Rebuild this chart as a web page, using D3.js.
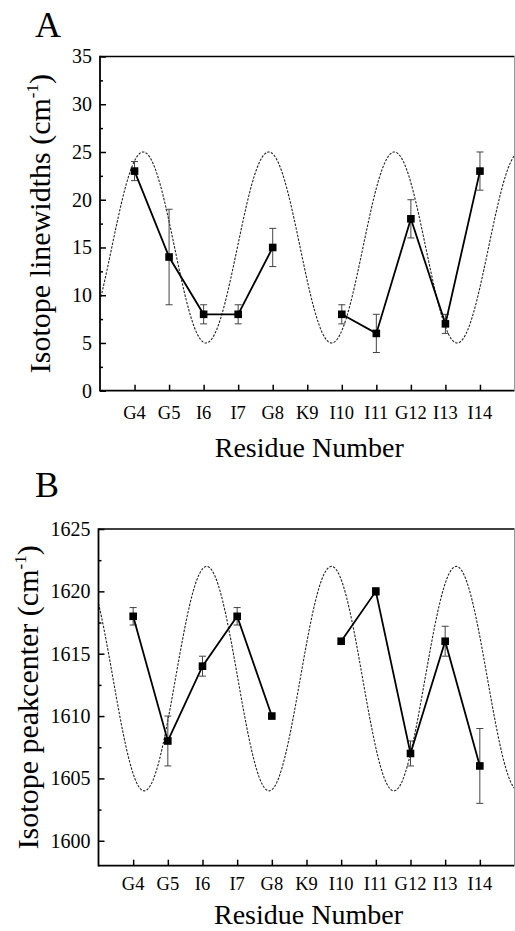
<!DOCTYPE html>
<html>
<head>
<meta charset="utf-8">
<script src="https://cdn.jsdelivr.net/npm/d3@7"></script>
<style>
  body { margin: 0; background: #fff; }
  svg { display: block; }
  text { font-family: "Liberation Serif", "Times New Roman", Times, serif; fill: #000; }
</style>
</head>
<body>
<svg id="chart" width="515" height="931"></svg>
<script>
// residues along the x axis
let residues = ['G4', 'G5', 'I6', 'I7', 'G8', 'K9', 'I10', 'I11', 'G12', 'I13', 'I14']
let residueNums = [4, 5, 6, 7, 8, 9, 10, 11, 12, 13, 14]

// panel A: isotope linewidths (cm-1), K9 not measured
let widthVals = [23, 14, 8, 8, 15, null, 8, 6, 18, 7, 23]
let widthErr = [1, 5, 1, 1, 2, null, 1, 2, 2, 1, 2]

// panel B: isotope peak center (cm-1)
let centerVals = [1618, 1608, 1614, 1618, 1610, null, 1616, 1620, 1607, 1616, 1606]
let centerErr = [0.7, 2, 0.8, 0.7, 0, null, 0, 0.3, 1, 1.2, 3]

// helical periodicity fits (dotted curves): mid, amplitude, period, position of a maximum
let fitA = { mid: 15, amp: 10, period: 3.636, peak: 4.25 }
let fitB = { mid: 1613, amp: 9, period: 3.6, peak: 6.12 }

// tick values
let ticksA = [0, 5, 10, 15, 20, 25, 30, 35]
let ticksB = [1600, 1605, 1610, 1615, 1620, 1625]

let svg = d3.select('#chart')
svg.append('rect').attr('width', 515).attr('height', 931).attr('fill', '#fff')

function drawPanel(cfg) {
  let g = svg.append('g')
  let x = d3.scaleLinear().domain([3, 15]).range([cfg.left, cfg.right])
  let y = d3.scaleLinear().domain(cfg.yDomain).range([cfg.bottom, cfg.top])

  let clipId = 'clip-' + cfg.letter
  g.append('clipPath').attr('id', clipId)
    .append('rect')
    .attr('x', cfg.left).attr('y', cfg.top)
    .attr('width', cfg.right - cfg.left).attr('height', cfg.bottom - cfg.top)

  // dotted periodic fit
  let f = cfg.fit
  let xs = d3.range(3, 15.001, 0.02)
  let wave = d3.line()
    .x(d => x(d))
    .y(d => y(f.mid + f.amp * Math.cos(2 * Math.PI * (d - f.peak) / f.period)))
  g.append('path')
    .datum(xs)
    .attr('clip-path', `url(#${clipId})`)
    .attr('d', wave)
    .attr('fill', 'none')
    .attr('stroke', '#222')
    .attr('stroke-width', 1.1)
    .attr('stroke-dasharray', '2.4,1.4')

  let pts = residueNums.map((r, i) => ({ r: r, v: cfg.vals[i], e: cfg.err[i] }))

  // error bars
  let eb = g.selectAll('.err')
    .data(pts.filter(d => d.v != null && d.e > 0))
    .enter().append('g')
    .attr('stroke', '#444')
    .attr('stroke-width', 1)
  eb.append('line')
    .attr('x1', d => x(d.r)).attr('x2', d => x(d.r))
    .attr('y1', d => y(d.v - d.e)).attr('y2', d => y(d.v + d.e))
  eb.append('line')
    .attr('x1', d => x(d.r) - 3.5).attr('x2', d => x(d.r) + 3.5)
    .attr('y1', d => y(d.v + d.e)).attr('y2', d => y(d.v + d.e))
  eb.append('line')
    .attr('x1', d => x(d.r) - 3.5).attr('x2', d => x(d.r) + 3.5)
    .attr('y1', d => y(d.v - d.e)).attr('y2', d => y(d.v - d.e))

  // connecting line, broken at K9
  let line = d3.line()
    .defined(d => d.v != null)
    .x(d => x(d.r))
    .y(d => y(d.v))
  g.append('path')
    .datum(pts)
    .attr('d', line)
    .attr('fill', 'none')
    .attr('stroke', '#000')
    .attr('stroke-width', 1.8)

  // square markers
  g.selectAll('.pt')
    .data(pts.filter(d => d.v != null))
    .enter().append('rect')
    .attr('x', d => x(d.r) - 3.8)
    .attr('y', d => y(d.v) - 3.8)
    .attr('width', 7.6)
    .attr('height', 7.6)
    .attr('fill', '#000')

  // y axis, ticks inward
  let yAxis = d3.axisRight(y).tickValues(cfg.ticks).tickSize(6).tickFormat('')
  g.append('g').attr('transform', `translate(${cfg.left},0)`).call(yAxis)
  let minor = d3.range(cfg.ticks[0] - cfg.step / 2, cfg.yDomain[1], cfg.step)
    .filter(v => v > cfg.yDomain[0] && v < cfg.yDomain[1])
  g.append('g').attr('transform', `translate(${cfg.left},0)`)
    .call(d3.axisRight(y).tickValues(minor).tickSize(3).tickFormat(''))
  g.selectAll('.tick line').attr('stroke', '#000').attr('stroke-width', 1.5)
  g.selectAll('.domain').remove()

  g.selectAll('.ylab')
    .data(cfg.ticks)
    .enter().append('text')
    .attr('x', cfg.left - 8)
    .attr('y', d => y(d))
    .attr('dy', '0.34em')
    .attr('text-anchor', 'end')
    .attr('font-size', 20)
    .text(d => d)

  // x axis, ticks inward
  let xAxis = d3.axisTop(x).tickValues(residueNums).tickSize(6).tickFormat('')
  let xg = g.append('g').attr('transform', `translate(0,${cfg.bottom})`).call(xAxis)
  xg.selectAll('.tick line').attr('stroke', '#000').attr('stroke-width', 1.5)
  xg.select('.domain').remove()

  g.selectAll('.xlab')
    .data(residues)
    .enter().append('text')
    .attr('x', (d, i) => x(residueNums[i]))
    .attr('y', cfg.bottom + cfg.xLabOff)
    .attr('text-anchor', 'middle')
    .attr('font-size', 18.5)
    .text(d => d)

  // frame
  g.append('line')
    .attr('x1', cfg.left).attr('x2', cfg.right)
    .attr('y1', cfg.top).attr('y2', cfg.top)
    .attr('stroke', '#000').attr('stroke-width', 1.6)
  g.append('line')
    .attr('x1', cfg.left).attr('x2', cfg.right)
    .attr('y1', cfg.bottom).attr('y2', cfg.bottom)
    .attr('stroke', '#000').attr('stroke-width', 1.8)
  g.append('line')
    .attr('x1', cfg.left).attr('x2', cfg.left)
    .attr('y1', cfg.top - 0.8).attr('y2', cfg.bottom + 0.9)
    .attr('stroke', '#000').attr('stroke-width', 1.8)
  g.append('line')
    .attr('x1', cfg.right).attr('x2', cfg.right)
    .attr('y1', cfg.top).attr('y2', cfg.bottom)
    .attr('stroke', '#999').attr('stroke-width', 1)

  // titles
  g.append('text')
    .attr('x', cfg.left + (cfg.right - cfg.left) / 2 + 2)
    .attr('y', cfg.bottom + cfg.xTitleOff)
    .attr('text-anchor', 'middle')
    .attr('font-size', 28)
    .text('Residue Number')

  let yt = g.append('text')
    .attr('transform', `translate(${cfg.yTitleX},${(cfg.top + cfg.bottom) / 2}) rotate(-90)`)
    .attr('text-anchor', 'middle')
    .attr('font-size', 30)
  yt.append('tspan').text(cfg.yTitle + ' (cm')
  yt.append('tspan').attr('font-size', 17).attr('dy', -12).text('-1')
  yt.append('tspan').attr('dy', 12).text(')')

  g.append('text')
    .attr('x', 35)
    .attr('y', cfg.letterY)
    .attr('font-size', 36)
    .text(cfg.letter)
}

drawPanel({
  letter: 'A', letterY: 37,
  left: 100, right: 514.5, top: 56.5, bottom: 390.7,
  yDomain: [0, 35], ticks: ticksA, step: 5,
  vals: widthVals, err: widthErr, fit: fitA,
  xLabOff: 28.5, xTitleOff: 66, yTitleX: 50,
  yTitle: 'Isotope linewidths'
})

drawPanel({
  letter: 'B', letterY: 497,
  left: 98.5, right: 514.5, top: 529, bottom: 865.7,
  yDomain: [1598, 1625], ticks: ticksB, step: 5,
  vals: centerVals, err: centerErr, fit: fitB,
  xLabOff: 24.3, xTitleOff: 58.5, yTitleX: 38,
  yTitle: 'Isotope peakcenter'
})
</script>
</body>
</html>
